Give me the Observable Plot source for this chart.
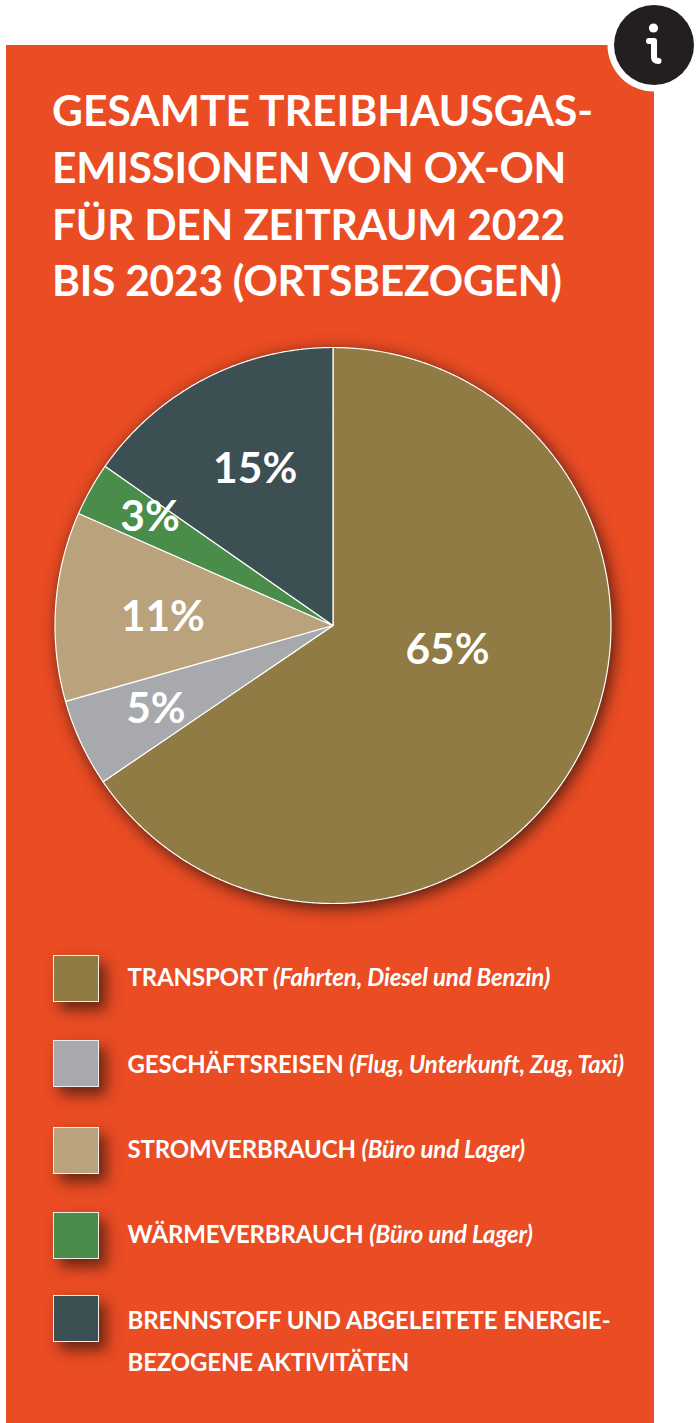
<!DOCTYPE html>
<html lang="de">
<head>
<meta charset="utf-8">
<script src="https://cdn.jsdelivr.net/npm/d3@7"></script>
<script src="https://cdn.jsdelivr.net/npm/@observablehq/plot@0.6"></script>
<style>
html,body{margin:0;padding:0;background:#fff;}
#page{position:relative;width:696px;height:1423px;overflow:hidden;font-family:Lato,sans-serif;color:#fff;font-weight:700;}
#panel{position:absolute;left:6px;top:45px;width:648px;height:1378px;background:#ea4c24;}
#title{position:absolute;left:52px;top:82px;margin:0;font-size:42.6px;line-height:56.8px;font-weight:700;white-space:nowrap;}
#title span{letter-spacing:-.3px;}
#title span:first-child{letter-spacing:0;}
#chart{position:absolute;left:0;top:325px;}
#chart svg{display:block;background:transparent;overflow:visible;}
.sw{position:absolute;left:52.5px;width:44.5px;height:44.5px;border:1.4px solid #f4ece6;box-shadow:7px 8px 13px rgba(60,25,15,.75);}
.lb{position:absolute;left:127.5px;font-size:24px;line-height:42px;white-space:nowrap;letter-spacing:-.15px;}
.lb i{font-weight:700;font-style:italic;}
#icon{position:absolute;left:604px;top:-5px;}
</style>
</head>
<body>
<div id="page">
<div id="panel"></div>
<h1 id="title"></h1>
<div id="chart"></div>
<div id="legend"></div>
<svg id="icon" width="92" height="100" viewBox="0 0 92 100">
<circle cx="50" cy="50" r="46.5" fill="#fff"/>
<circle cx="50" cy="50" r="40" fill="#231f20"/>
<circle cx="49.5" cy="33" r="4.6" fill="#fff"/>
<path d="M45 46 H50 V62 Q50 66 54.5 66" fill="none" stroke="#fff" stroke-width="6" stroke-linecap="round" stroke-linejoin="round"/>
</svg>
</div>
<script>
const titleLines = ["GESAMTE TREIBHAUSGAS-","EMISSIONEN VON OX-ON","FÜR DEN ZEITRAUM 2022","BIS 2023 (ORTSBEZOGEN)"];
const categories = ["Transport","Geschäftsreisen","Stromverbrauch","Wärmeverbrauch","Brennstoff"];
const shares = [65.5,5.1,11.0,3.1,15.3];
const percentLabels = ["65%","5%","11%","3%","15%"];
const colors = ["#8f7b43","#a7a9ac","#b9a27c","#4a8c4a","#3c4f53"];
const legendMain = ["TRANSPORT","GESCHÄFTSREISEN","STROMVERBRAUCH","WÄRMEVERBRAUCH","BRENNSTOFF UND ABGELEITETE ENERGIE-"];
const legendNote = ["(Fahrten, Diesel und Benzin)","(Flug, Unterkunft, Zug, Taxi)","(Büro und Lager)","(Büro und Lager)",""];
const legendSecond = ["","","","","BEZOGENE AKTIVITÄTEN"];

document.getElementById("title").innerHTML = titleLines.map(t=>`<span>${t}</span>`).join("<br>");

// Wedge outlines follow from the shares alone (clockwise from 12 o'clock).
const total = d3.sum(shares);
const wedges = [];
let acc = 0;
categories.forEach((c,i)=>{
  const a0 = acc/total*2*Math.PI;
  acc += shares[i];
  const a1 = acc/total*2*Math.PI;
  wedges.push({c,x:0,y:0});
  const n = Math.max(2,Math.ceil((a1-a0)/0.005));
  for(let k=0;k<=n;k++){
    const a = a0+(a1-a0)*k/n;
    wedges.push({c,x:Math.sin(a),y:Math.cos(a)});
  }
});
// Label anchors, in units of the pie radius from its centre.
const labelX = [0.412,-0.637,-0.612,-0.658,-0.28];
const labelY = [-0.083,-0.298,0.036,0.396,0.566];
const labels = percentLabels.map((t,i)=>({t,x:labelX[i],y:labelY[i]}));

const plot = Plot.plot({
  width:696,height:600,margin:0,
  style:{background:"transparent",overflow:"visible"},
  x:{domain:[-1,1],range:[54.5,610.5],axis:null},
  y:{domain:[1,-1],range:[22,578],axis:null},
  color:{domain:categories,range:colors},
  marks:[
    Plot.line(wedges,{x:"x",y:"y",z:"c",fill:"c",stroke:"#fff",strokeWidth:1.2,curve:"linear-closed",strokeLinejoin:"round",
      render(index,scales,values,dims,ctx,next){
        const g = next(index,scales,values,dims,ctx);
        g.style.filter = "drop-shadow(3px 4px 8px rgba(50,20,12,.85))";
        return g;
      }}),
    Plot.text(labels,{x:"x",y:"y",dy:1.5,text:"t",fill:"#fff",fontSize:42.5,fontWeight:700,fontFamily:"Lato",textAnchor:"middle"})
  ]
});
document.getElementById("chart").appendChild(plot);

const swatchTop = [955,1040,1127,1212,1295];
const textTop = [956,1043,1128,1213,1299];
const legend = document.getElementById("legend");
categories.forEach((c,i)=>{
  const s = document.createElement("div");
  s.className="sw"; s.style.top=swatchTop[i]+"px"; s.style.background=colors[i];
  legend.appendChild(s);
  const l = document.createElement("div");
  l.className="lb"; l.style.top=textTop[i]+"px";
  l.innerHTML = legendMain[i]+(legendNote[i]?` <i>${legendNote[i]}</i>`:"")+(legendSecond[i]?"<br>"+legendSecond[i]:"");
  legend.appendChild(l);
});
</script>
</body>
</html>
